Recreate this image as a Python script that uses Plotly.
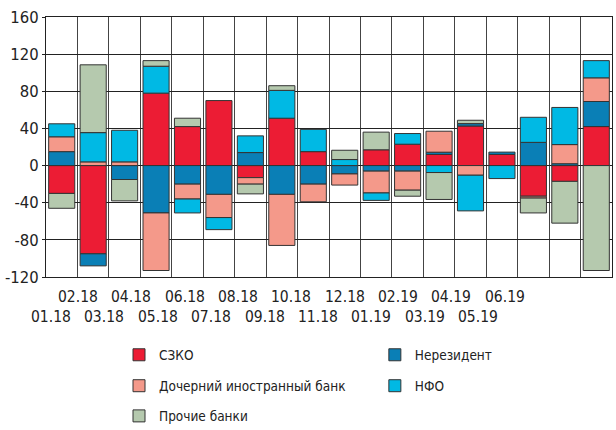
import plotly.graph_objects as go

months = ["01.18", "02.18", "03.18", "04.18", "05.18", "06.18", "07.18", "08.18", "09.18",
          "10.18", "11.18", "12.18", "01.19", "02.19", "03.19", "04.19", "05.19", "06.19"]

szko    = [-30, -95, None, 78, 42, 70, -13, 51, 15, None, 17, 23, 12, 42.6, 12, -33, -17, 42]
nerez   = [15, -13, -15, -51, -20, -31, 14, -31, -20, -9, -6, -6, 2.4, 2.6, 2.5, 25, 2, 27]
doch    = [16, 4, 4, -62, -16, -25, -7, -55, -19, -12, -23.5, -20.5, 22.6, -10.4, None, -2, 20.6, 25.5]
nfo     = [14, 31.5, 34, 29, -15, -13, 18, 30, 24, 6.5, -8, 11.5, -7.5, -38.4, -14, 27, 40, 18.5]
prochie = [-16, 73, -23, 6, 9, None, -10.5, 5, None, 10, 19, -6.5, -29, 3.6, None, -16, -45, -113]

series = [
    ("СЗКО", szko, "#EC1C34"),
    ("Нерезидент", nerez, "#0A7FB6"),
    ("Дочерний иностранный банк", doch, "#F4998A"),
    ("НФО", nfo, "#00B9E4"),
    ("Прочие банки", prochie, "#B5C9AE"),
]
legend_ids = ["legend", "legend2", "legend3", "legend4", "legend5"]

FONT = "Liberation Sans Narrow, DejaVu Sans Condensed, Roboto, sans-serif"

fig = go.Figure()
for (name, vals, color), lg in zip(series, legend_ids):
    fig.add_trace(go.Bar(
        x=months, y=vals, name=name, legend=lg, showlegend=True,
        marker=dict(color=color, line=dict(color="#333333", width=1)),
    ))

# two-row x labels (as in the reference, slightly compressed relative to the columns)
annotations = []
for i, m in enumerate(months):
    annotations.append(dict(
        x=-0.34 + i * 0.849, xref="x", y=0, yref="paper",
        text=m, showarrow=False, xanchor="center", yanchor="middle",
        yshift=-20 if i % 2 == 1 else -40,
        font=dict(family=FONT, size=15.5, color="#222222"),
    ))

leg_common = dict(orientation="h", xanchor="left", yanchor="middle",
                  font=dict(family=FONT, size=13.5, color="#222222"),
                  bgcolor="rgba(0,0,0,0)", itemclick=False, itemdoubleclick=False)
# legend grid: two columns, three rows (column-major as in the reference)
leg_pos = {
    "legend":  (0.129, -0.300),
    "legend2": (0.581, -0.300),
    "legend3": (0.129, -0.419),
    "legend4": (0.581, -0.419),
    "legend5": (0.129, -0.535),
}
legend_layout = {k: dict(x=v[0], y=v[1], **leg_common) for k, v in leg_pos.items()}

fig.update_layout(
    width=616, height=430,
    margin=dict(l=46, r=4, t=17, b=153, autoexpand=False),
    showlegend=True,
    barmode="relative", bargap=0.17,
    plot_bgcolor="white", paper_bgcolor="white",
    font=dict(family=FONT, size=16, color="#222222"),
    annotations=annotations,
    **legend_layout,
    xaxis=dict(type="category", tickson="boundaries", showticklabels=False,
               showgrid=True, gridcolor="#444444", gridwidth=1,
               showline=True, linecolor="#222222", linewidth=1, mirror=True,
               ticks="", range=[-0.5, 17.5], automargin=False),
    yaxis=dict(range=[-120, 160], tickvals=[-120, -80, -40, 0, 40, 80, 120, 160],
               ticktext=["-120", "-80", "-40", "0", "40", "80", "120", "160"],
               showgrid=True, gridcolor="#222222", gridwidth=1,
               zeroline=True, zerolinecolor="#222222", zerolinewidth=1,
               showline=True, linecolor="#222222", linewidth=1, mirror=True,
               ticks="outside", ticklen=3, tickcolor="#222222", automargin=False,
               tickfont=dict(family=FONT, size=16.5, color="#222222")),
)

fig.write_html(
    "out.html",
    config={"displayModeBar": False},
    post_script="document.body.style.margin='0';document.body.style.padding='0';"
                "document.body.style.overflow='hidden';",
)
